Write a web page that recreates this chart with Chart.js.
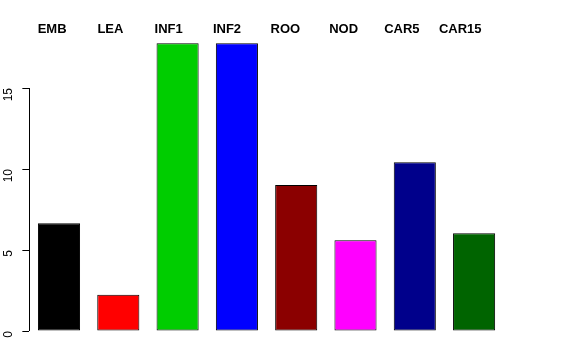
<!DOCTYPE html>
<html>
<head>
<meta charset="UTF-8">
<title>Barplot</title>
<script src="https://cdn.jsdelivr.net/npm/chart.js"></script>
<style>
  body { margin: 0; background: #fff; }
</style>
</head>
<body>
<canvas id="grafico" width="576" height="360"></canvas>
<script>
const categorias = ['EMB', 'LEA', 'INF1', 'INF2', 'ROO', 'NOD', 'CAR5', 'CAR15'];
const valores = [6.65, 2.24, 17.76, 17.76, 9.01, 5.6, 10.41, 6.03];
const cores = ['#000000', '#ff0000', '#00cd00', '#0000ff', '#8b0000', '#ff00ff', '#00008b', '#006400'];
const yTicks = [0, 5, 10, 15];

// faixa (em unidades de categoria) usada para espalhar os nomes no topo
const nomesMin = -0.39, nomesMax = 7.747;

// eixo y estilo R (linha só de 0 a 15) e nomes no topo
const eixoR = {
  id: 'eixoR',
  afterDraw(chart) {
    const y = chart.scales.y;
    const area = chart.chartArea;
    const ctx = chart.ctx;
    const x = Math.round(y.right) + 0.5;
    ctx.save();
    ctx.strokeStyle = '#000';
    ctx.lineWidth = 1;
    ctx.beginPath();
    ctx.moveTo(x, y.getPixelForValue(yTicks[0]));
    ctx.lineTo(x, y.getPixelForValue(yTicks[yTicks.length - 1]));
    ctx.stroke();

    ctx.fillStyle = '#000';
    ctx.font = 'bold 13px "Liberation Sans"';
    ctx.textAlign = 'center';
    ctx.textBaseline = 'alphabetic';
    const w = area.right - area.left;
    categorias.forEach((c, i) => {
      const px = area.left + (i - nomesMin) / (nomesMax - nomesMin) * w;
      ctx.fillText(c, px, 32.5);
    });
    ctx.restore();
  }
};

new Chart(document.getElementById('grafico').getContext('2d'), {
  type: 'bar',
  data: {
    labels: categorias,
    datasets: [{
      data: valores,
      backgroundColor: cores,
      borderColor: '#000',
      borderWidth: 1,
      borderSkipped: false,
      barPercentage: 0.71,
      categoryPercentage: 1
    }]
  },
  options: {
    responsive: false,
    animation: false,
    layout: { padding: { left: 0, right: 72.25, top: 39.4, bottom: 29 } },
    plugins: { legend: { display: false }, tooltip: { enabled: false } },
    scales: {
      x: { display: false },
      y: {
        min: 0,
        max: 18,
        grid: { drawOnChartArea: false, tickLength: 7, color: '#000' },
        border: { display: false },
        ticks: {
          color: '#000',
          padding: 14,
          minRotation: 90,
          maxRotation: 90,
          font: { family: 'Liberation Sans', size: 12 }
        },
        afterBuildTicks(s) { s.ticks = yTicks.map(v => ({ value: v })); },
        afterFit(s) { s.width = 29.35; }
      }
    }
  },
  plugins: [eixoR]
});
</script>
</body>
</html>
